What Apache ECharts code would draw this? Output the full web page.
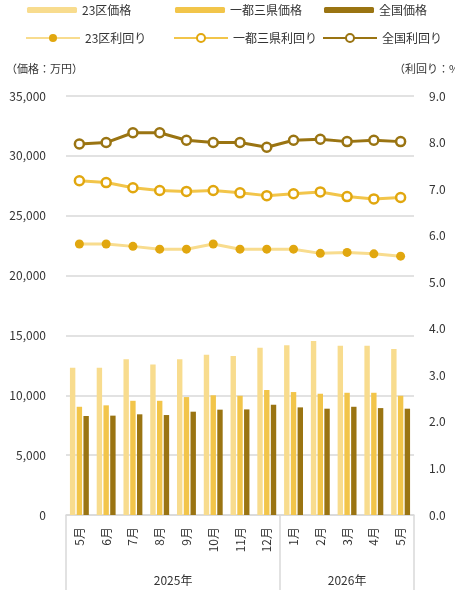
<!DOCTYPE html>
<html>
<head>
<meta charset="utf-8">
<script src="https://cdn.jsdelivr.net/npm/echarts@6/dist/echarts.min.js"></script>
<style>
html,body{margin:0;padding:0;background:#fff;}
#c{width:455px;height:590px;}
</style>
</head>
<body>
<div id="c"></div>
<script>
const months = ['5月','6月','7月','8月','9月','10月','11月','12月','1月','2月','3月','4月','5月'];
const yearLabels = ['2025年','2026年'];
const yearBoundaries = [0, 8]; // category index where each year starts
const priceTicks = [0, 35000, 5000];
const yieldTicks = [0, 9, 1];

const price23 = [12300, 12300, 13000, 12580, 13000, 13390, 13280, 13970, 14170, 14530, 14140, 14140, 13860];
const priceMetro = [9040, 9160, 9540, 9540, 9850, 10000, 9960, 10440, 10270, 10130, 10210, 10210, 9960];
const priceNation = [8270, 8300, 8410, 8350, 8630, 8800, 8820, 9210, 8990, 8880, 9040, 8930, 8880];

const yield23 = [5.82, 5.82, 5.77, 5.71, 5.71, 5.82, 5.71, 5.71, 5.71, 5.62, 5.64, 5.61, 5.56];
const yieldMetro = [7.18, 7.14, 7.03, 6.97, 6.95, 6.97, 6.92, 6.86, 6.90, 6.94, 6.84, 6.79, 6.82];
const yieldNation = [7.97, 8.00, 8.21, 8.21, 8.05, 8.00, 8.00, 7.90, 8.05, 8.07, 8.02, 8.05, 8.02];

const C_LIGHT = '#F8DC8E';
const C_MID = '#F2C54A';
const C_DARK = '#9A7412';
const C_MARK = '#E1A70F';
const FONT = '"Noto Sans CJK JP", "Noto Sans", sans-serif';
const TXT = '#333333';
const GRID = '#D9D9D9';

const n = months.length;
const yearCenters = yearBoundaries.map((b, i) => {
  const end = i + 1 < yearBoundaries.length ? yearBoundaries[i + 1] : n;
  return (b + end) / 2;
});

const barNames = ['23区価格','一都三県価格','全国価格'];
const lineNames = ['23区利回り','一都三県利回り','全国利回り'];
const legendLefts = [27, 175, 324];
const legends = [];
barNames.forEach((nm, i) => legends.push({
  data: [nm], left: legendLefts[i], top: 4, padding: 0, itemWidth: 50, itemHeight: 6, itemGap: 0,
  textStyle: {fontFamily: FONT, fontSize: 12, color: TXT}, selectedMode: false
}));
lineNames.forEach((nm, i) => legends.push({
  data: [nm], left: legendLefts[i] - 2, top: 32, padding: 0, itemWidth: 54, itemHeight: 10, itemGap: 0,
  textStyle: {fontFamily: FONT, fontSize: 12, color: TXT}, selectedMode: false
}));

const chart = echarts.init(document.getElementById('c'), null, {renderer: 'canvas'});
chart.setOption({
  animation: false,
  backgroundColor: '#fff',
  legend: legends,
  grid: {left: 66, right: 41, top: 96, bottom: 75, containLabel: false, outerBoundsMode: 'none'},
  xAxis: [{
    type: 'category',
    data: months,
    position: 'bottom',
    axisLine: {lineStyle: {color: GRID, width: 1.5}},
    axisTick: {
      show: true, length: 75, lineStyle: {color: GRID, width: 1.5},
      interval: (idx) => yearBoundaries.indexOf(idx) >= 0
    },
    axisLabel: {interval: 0, rotate: 90, margin: 12, fontFamily: FONT, fontSize: 12, color: TXT}
  }, {
    type: 'value',
    position: 'bottom',
    min: 0, max: n, interval: 0.5,
    axisLine: {show: false}, axisTick: {show: false}, splitLine: {show: false},
    axisLabel: {
      margin: 59, fontFamily: FONT, fontSize: 12, color: TXT, showMinLabel: true, showMaxLabel: true,
      formatter: (v) => {
        const k = yearCenters.findIndex(c => Math.abs(c - v) < 1e-6);
        return k >= 0 ? yearLabels[k] : '';
      }
    }
  }],
  yAxis: [{
    type: 'value',
    min: priceTicks[0], max: priceTicks[1], interval: priceTicks[2],
    name: '（価格：万円）', nameLocation: 'end', nameGap: 22,
    nameTextStyle: {fontFamily: FONT, fontSize: 11, color: TXT, align: 'left', padding: [0, 0, 0, -60]},
    axisLine: {show: false}, axisTick: {show: false},
    splitLine: {lineStyle: {color: GRID, width: 1.5}},
    axisLabel: {margin: 20, fontFamily: FONT, fontSize: 12, color: TXT}
  }, {
    type: 'value',
    min: yieldTicks[0], max: yieldTicks[1], interval: yieldTicks[2],
    name: '（利回り：%）', nameLocation: 'end', nameGap: 22,
    nameTextStyle: {fontFamily: FONT, fontSize: 11, color: TXT, align: 'left', padding: [0, 0, 0, -20]},
    axisLine: {show: false}, axisTick: {show: false}, splitLine: {show: false},
    axisLabel: {margin: 15, fontFamily: FONT, fontSize: 12, color: TXT, formatter: v => v.toFixed(1)}
  }],
  series: [
    {name: barNames[0], type: 'bar', data: price23, barWidth: 5.4, barGap: '25%', itemStyle: {color: C_LIGHT}},
    {name: barNames[1], type: 'bar', data: priceMetro, barWidth: 5.4, barGap: '25%', itemStyle: {color: C_MID}},
    {name: barNames[2], type: 'bar', data: priceNation, barWidth: 5.4, barGap: '25%', itemStyle: {color: C_DARK}},
    {name: lineNames[0], type: 'line', yAxisIndex: 1, data: yield23, symbol: 'circle', symbolSize: 9,
     lineStyle: {color: C_LIGHT, width: 3}, itemStyle: {color: C_MARK, borderColor: C_MARK, borderWidth: 0}},
    {name: lineNames[1], type: 'line', yAxisIndex: 1, data: yieldMetro, symbol: 'circle', symbolSize: 9,
     lineStyle: {color: C_MID, width: 3}, itemStyle: {color: '#fff', borderColor: C_MARK, borderWidth: 2.5}},
    {name: lineNames[2], type: 'line', yAxisIndex: 1, data: yieldNation, symbol: 'circle', symbolSize: 9,
     lineStyle: {color: C_DARK, width: 3}, itemStyle: {color: '#fff', borderColor: C_DARK, borderWidth: 2.5}}
  ]
});
</script>
</body>
</html>
